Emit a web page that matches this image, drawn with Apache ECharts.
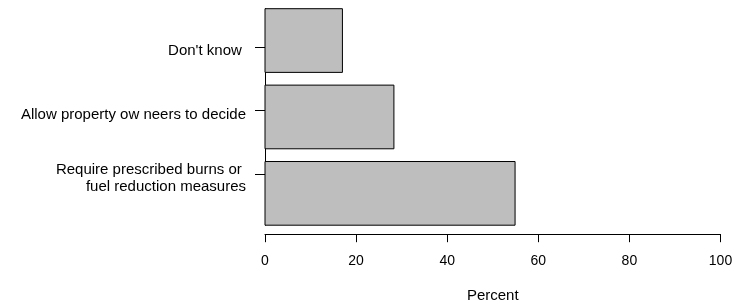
<!DOCTYPE html>
<html>
<head>
<meta charset="utf-8">
<script src="https://cdn.jsdelivr.net/npm/echarts@6/dist/echarts.min.js"></script>
<style>
    html, body { margin: 0; padding: 0; background: #fff; }
    #chart { width: 736px; height: 305px; }
</style>
</head>
<body>
<div id="chart"></div>
<script>
// 类别 / 数值
const categories = ["Don't know ", "Allow property ow neers to decide", "Require prescribed burns or \nfuel reduction measures"];
const percents = [17, 28.3, 54.9];
// 条形中心位置 (R barplot 坐标, space = 0.2)
const barPositions = [0.7, 1.9, 3.1];
// 标签刻度位置
const tickPositions = [0.8, 1.8, 2.8];
const xTicks = [0, 20, 40, 60, 80, 100];

// 标签相对刻度略向下
const LABEL_SHIFT = 0.06;

renderChart();

function renderChart() {
    let chart = echarts.init(document.getElementById("chart"));

    let barData = [];
    for (let i = 0; i < percents.length; i++) {
        barData.push([percents[i], barPositions[i]]);
    }
    let labelValues = tickPositions.map(function (v) { return v + LABEL_SHIFT; });

    const font = "'Liberation Sans', Arial, Helvetica, sans-serif";

    let option = {
        animation: false,
        grid: {
            left: 265,
            right: 15.5,
            top: 8.7,
            bottom: 79.8,
            outerBoundsMode: 'none',   //不要自动收缩
            containLabel: false
        },
        xAxis: {
            type: 'value',
            min: xTicks[0],
            max: xTicks[xTicks.length - 1],
            interval: 20,
            offset: 9,
            name: 'Percent',
            nameLocation: 'middle',
            nameGap: 54,
            nameTextStyle: { color: '#000', fontSize: 15, fontFamily: font },
            axisLine: { show: true, lineStyle: { color: '#000', width: 1 } },
            axisTick: { show: true, length: 8, lineStyle: { color: '#000' } },
            axisLabel: { color: '#000', fontSize: 14, fontFamily: font, margin: 20 },
            splitLine: { show: false }
        },
        yAxis: {
            type: 'value',
            inverse: true,
            min: 0.2,
            max: 3.6,
            axisLine: { show: true, lineStyle: { color: '#000', width: 1 } },
            axisTick: {
                show: true,
                length: 10,
                customValues: tickPositions,
                lineStyle: { color: '#000' }
            },
            axisLabel: {
                customValues: labelValues,
                color: '#000',
                fontSize: 15,
                fontFamily: font,
                lineHeight: 17.3,
                margin: 19,
                formatter: function (v) {
                    for (let i = 0; i < labelValues.length; i++) {
                        if (Math.abs(v - labelValues[i]) < 1e-6) return categories[i];
                    }
                    return '';
                }
            },
            splitLine: { show: false }
        },
        series: [{
            type: 'custom',
            data: barData,
            encode: { x: 0, y: 1 },
            renderItem: function (params, api) {
                let start = api.coord([0, api.value(1)]);
                let end = api.coord([api.value(0), api.value(1)]);
                let h = api.size([0, 1])[1];
                return {
                    type: 'rect',
                    shape: {
                        x: start[0],
                        y: start[1] - h / 2,
                        width: end[0] - start[0],
                        height: h
                    },
                    style: { fill: '#bebebe', stroke: '#000', lineWidth: 1 }
                };
            }
        }]
    };

    chart.setOption(option);
}
</script>
</body>
</html>
